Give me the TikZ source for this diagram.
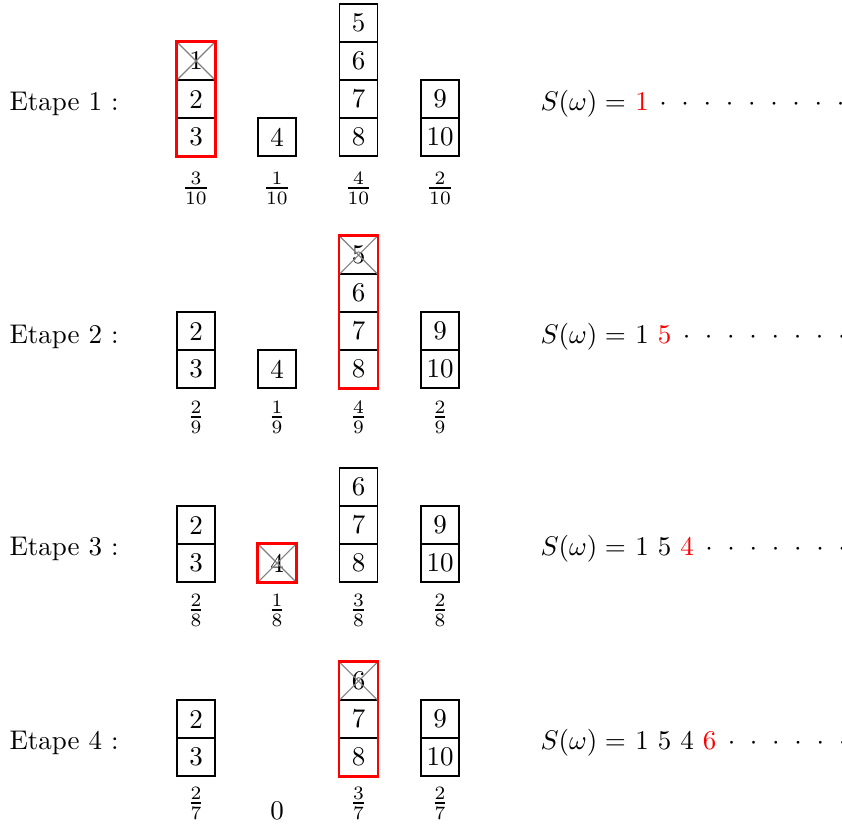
\documentclass[tikz,border=0pt]{standalone}
\begin{document}
\begin{tikzpicture}[x=0.37037pt,y=-0.37037pt,
  box/.style={draw,line width=0.4pt,minimum width=14.07pt,minimum height=14.07pt,inner sep=0pt},
  hilite/.style={draw=red,line width=0.8pt},
  crossline/.style={draw=gray,line width=0.4pt},
  frac/.style={inner sep=0pt},
  lbl/.style={anchor=base west,inner sep=0pt},
  num/.style={anchor=base,inner sep=0pt}]
\useasboundingbox (0,0) rectangle (842,827);
% stack: name, x, bottom centre y, list bottom-to-top
\newcommand\stackcol[4]{%
  \foreach \v [count=\i] in {#4}{%
    \node[box] (#1-\i) at (#2,{#3-(\i-1)*38}) {\v};}}
\newcommand\markcol[2]{% name, number of boxes
  \draw[crossline] (#1-#2.north west) -- (#1-#2.south east)
                   (#1-#2.north east) -- (#1-#2.south west);
  \draw[hilite] (#1-#2.north west) rectangle (#1-1.south east);}
\newcommand\dotrow[4]{% name, first x, baseline, last index
  \foreach \k in {0,...,#4}{%
    \node[num] (#1-\k) at ({#2+\k*22.2},#3) {$\cdot$};}}
% ---------------- Step 1
\node[lbl] (e1) at (9,110) {Etape 1 :};
\stackcol{a1}{196}{137}{3,2,1}
\stackcol{a2}{277}{137}{4}
\stackcol{a3}{358.5}{137}{8,7,6,5}
\stackcol{a4}{440}{137}{10,9}
\markcol{a1}{3}
\node[frac] (fa1) at (196,188) {$\frac{3}{10}$};
\node[frac] (fa2) at (277,188) {$\frac{1}{10}$};
\node[frac] (fa3) at (358.5,188) {$\frac{4}{10}$};
\node[frac] (fa4) at (440,188) {$\frac{2}{10}$};
\node[lbl] (sa) at (540,110) {$S(\omega) =$};
\node[num,text=red] (sa1) at (642,110) {1};
\dotrow{da}{663}{110}{8}
% ---------------- Step 2
\node[lbl] (e2) at (9,343) {Etape 2 :};
\stackcol{b1}{196}{369}{3,2}
\stackcol{b2}{277}{369}{4}
\stackcol{b3}{358.5}{369}{8,7,6,5}
\stackcol{b4}{440}{369}{10,9}
\markcol{b3}{4}
\node[frac] (fb1) at (196,417) {$\frac{2}{9}$};
\node[frac] (fb2) at (277,417) {$\frac{1}{9}$};
\node[frac] (fb3) at (358.5,417) {$\frac{4}{9}$};
\node[frac] (fb4) at (440,417) {$\frac{2}{9}$};
\node[lbl] (sb) at (540,343) {$S(\omega) =$};
\node[num] (sb1) at (642,343) {1};
\node[num,text=red] (sb2) at (664.5,343) {5};
\dotrow{db}{686.5}{343}{7}
% ---------------- Step 3
\node[lbl] (e3) at (9,555) {Etape 3 :};
\stackcol{c1}{196}{563}{3,2}
\stackcol{c2}{277}{563}{4}
\stackcol{c3}{358.5}{563}{8,7,6}
\stackcol{c4}{440}{563}{10,9}
\markcol{c2}{1}
\node[frac] (fc1) at (196,610) {$\frac{2}{8}$};
\node[frac] (fc2) at (277,610) {$\frac{1}{8}$};
\node[frac] (fc3) at (358.5,610) {$\frac{3}{8}$};
\node[frac] (fc4) at (440,610) {$\frac{2}{8}$};
\node[lbl] (sc) at (540,555) {$S(\omega) =$};
\node[num] (sc1) at (642,555) {1};
\node[num] (sc2) at (664.5,555) {5};
\node[num,text=red] (sc3) at (687,555) {4};
\dotrow{dc}{709}{555}{6}
% ---------------- Step 4
\node[lbl] (e4) at (9,749) {Etape 4 :};
\stackcol{d1}{196}{757}{3,2}
\stackcol{d3}{358.5}{757}{8,7,6}
\stackcol{d4}{440}{757}{10,9}
\markcol{d3}{3}
\node[frac] (fd1) at (196,803) {$\frac{2}{7}$};
\node[frac] (fd2) at (277,811) {0};
\node[frac] (fd3) at (358.5,803) {$\frac{3}{7}$};
\node[frac] (fd4) at (440,803) {$\frac{2}{7}$};
\node[lbl] (sd) at (540,749) {$S(\omega) =$};
\node[num] (sd1) at (642,749) {1};
\node[num] (sd2) at (664.5,749) {5};
\node[num] (sd3) at (687,749) {4};
\node[num,text=red] (sd4) at (709.5,749) {6};
\dotrow{dd}{731.5}{749}{5}
\end{tikzpicture}
\end{document}
